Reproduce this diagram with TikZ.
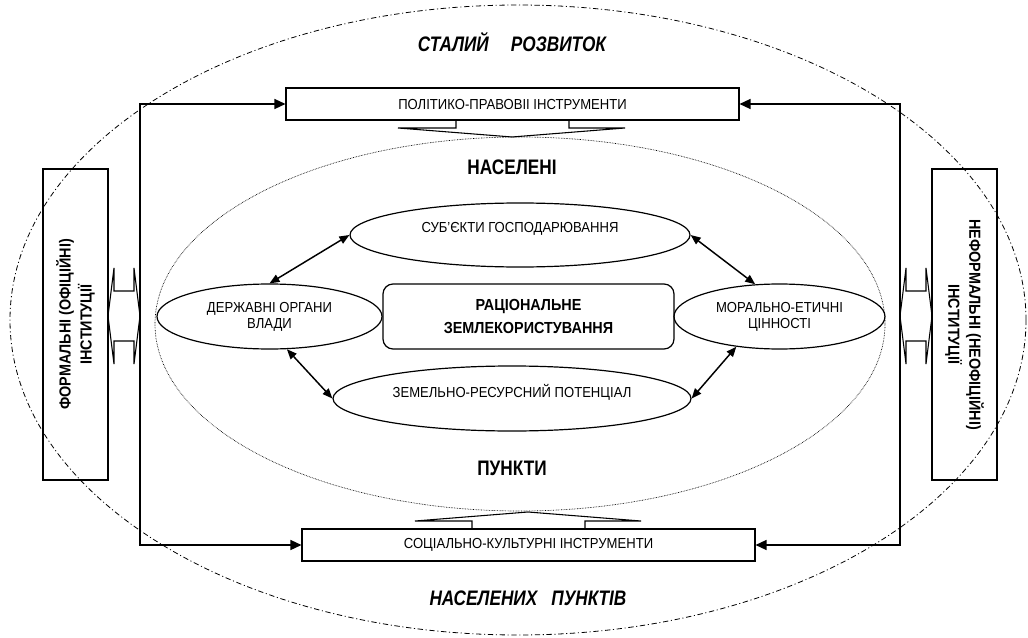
\documentclass[tikz,border=0pt]{standalone}
\usepackage{fontspec}
\setmainfont{Liberation Sans}[FakeStretch=0.9]
\newfontfamily\headfont{Liberation Sans}[FakeStretch=0.82]
\usetikzlibrary{arrows.meta,shapes.geometric}
\begin{document}
\begin{tikzpicture}[x=0.75pt,y=-0.75pt,
  box/.style={draw,line width=0.8pt,inner sep=0pt,font=\fontsize{10.9}{12}\selectfont,minimum width=339.75pt,minimum height=24pt},
  oval/.style={ellipse,draw,line width=0.9pt,inner sep=0pt,align=center,font=\fontsize{10.9}{12}\selectfont,minimum height=48.75pt},
  side/.style={draw,line width=0.8pt,inner sep=0pt,align=center,font=\fontsize{12}{15.75}\selectfont\bfseries,minimum width=233.25pt,minimum height=48.75pt},
  centre/.style={draw,rounded corners=7.5pt,line width=0.9pt,inner sep=0pt,align=center,font=\fontsize{12}{17.25}\selectfont\bfseries,minimum width=218.25pt,minimum height=48.75pt},
  headup/.style={font=\headfont\fontsize{15.75}{18}\selectfont\bfseries},
  headit/.style={font=\headfont\fontsize{15.75}{18}\selectfont\bfseries\itshape},
  frameline/.style={line width=1pt,{Triangle[length=8.25pt,width=7.5pt]}-{Triangle[length=8.25pt,width=7.5pt]}},
  linkline/.style={line width=1.1pt,{Triangle[length=7.5pt,width=6pt]}-{Triangle[length=7.5pt,width=6pt]}},
  fatarrow/.style={line width=0.8pt,line join=miter}
]
\useasboundingbox (0,0) rectangle (1028,638);

% background ellipses
\draw[line width=0.6pt,dash pattern=on 4pt off 2pt on 0.8pt off 2pt] (518,320) ellipse [x radius=381pt, y radius=236.25pt];
\draw[line width=0.5pt,dash pattern=on 0.5pt off 0.7pt] (520,324) ellipse [x radius=273.75pt, y radius=140.25pt];

% headings
\node[headit] (t1) at (512,42) {СТАЛИЙ\hspace{13pt} РОЗВИТОК};
\node[headup] (t2) at (512,167) {НАСЕЛЕНІ};
\node[headup] (t3) at (512,468) {ПУНКТИ};
\node[headit] (t4) at (528,598) {НАСЕЛЕНИХ\hspace{7pt} ПУНКТІВ};

% boxes
\node[box] (pp) at (512.5,104) {ПОЛІТИКО-ПРАВОВІІ ІНСТРУМЕНТИ};
\node[box] (sc) at (528.5,545) {СОЦІАЛЬНО-КУЛЬТУРНІ ІНСТРУМЕНТИ};
\node[side,rotate=90] (fi) at (75.5,324.5) {ФОРМАЛЬНІ (ОФІЦІЙНІ)\\ІНСТИТУЦІЇ};
\node[side,rotate=-90] (ni) at (964.5,324.5) {НЕФОРМАЛЬНІ (НЕОФІЦІЙНІ)\\ІНСТИТУЦІЇ};

% ellipses
\node[oval,minimum width=255pt,minimum height=48pt] (sub) at (520,235) {СУБ'ЄКТИ ГОСПОДАРЮВАННЯ\\\mbox{}};
\node[oval,minimum width=168.75pt] (dov) at (269.5,316.5) {ДЕРЖАВНІ ОРГАНИ\\ВЛАДИ};
\node[oval,minimum width=158.25pt] (mev) at (779.5,316.5) {МОРАЛЬНО-ЕТИЧНІ\\ЦІННОСТІ};
\node[oval,minimum width=268.5pt] (zrp) at (512,398.5) {ЗЕМЕЛЬНО-РЕСУРСНИЙ ПОТЕНЦІАЛ\\\mbox{}};
\node[centre] (rz) at (528.5,316.5) {РАЦІОНАЛЬНЕ\\ЗЕМЛЕКОРИСТУВАННЯ};

% frame connectors
\coordinate (lc) at (140,324);
\coordinate (rc) at (900,324);
\draw[frameline] (pp.west) -| (lc) |- (sc.west);
\draw[frameline] (pp.east) -| (rc) |- (sc.east);

% links between ellipses
\draw[linkline] (sub.west) -- (dov.north);
\draw[linkline] (sub.east) -- (mev.127);
\draw[linkline] (dov.298) -- (zrp.west);
\draw[linkline] (mev.215) -- (zrp.east);

% flat block arrows
\draw[fatarrow] (456,120) -- (456,128) -- (398,128) -- (512,137) -- (625,128) -- (569,128) -- (569,120);
\draw[fatarrow] (472,529) -- (472,521) -- (415,521) -- (528,512) -- (641,521) -- (585,521) -- (585,529);
\draw[fatarrow] (114,291) -- (134,291) -- (134,268) -- (140,316) -- (134,364) -- (134,341) -- (114,341) -- (114,364) -- (108,316) -- (114,268) -- cycle;
\draw[fatarrow] (906,291) -- (926,291) -- (926,268) -- (932,316) -- (926,364) -- (926,341) -- (906,341) -- (906,364) -- (900,316) -- (906,268) -- cycle;
\end{tikzpicture}
\end{document}
